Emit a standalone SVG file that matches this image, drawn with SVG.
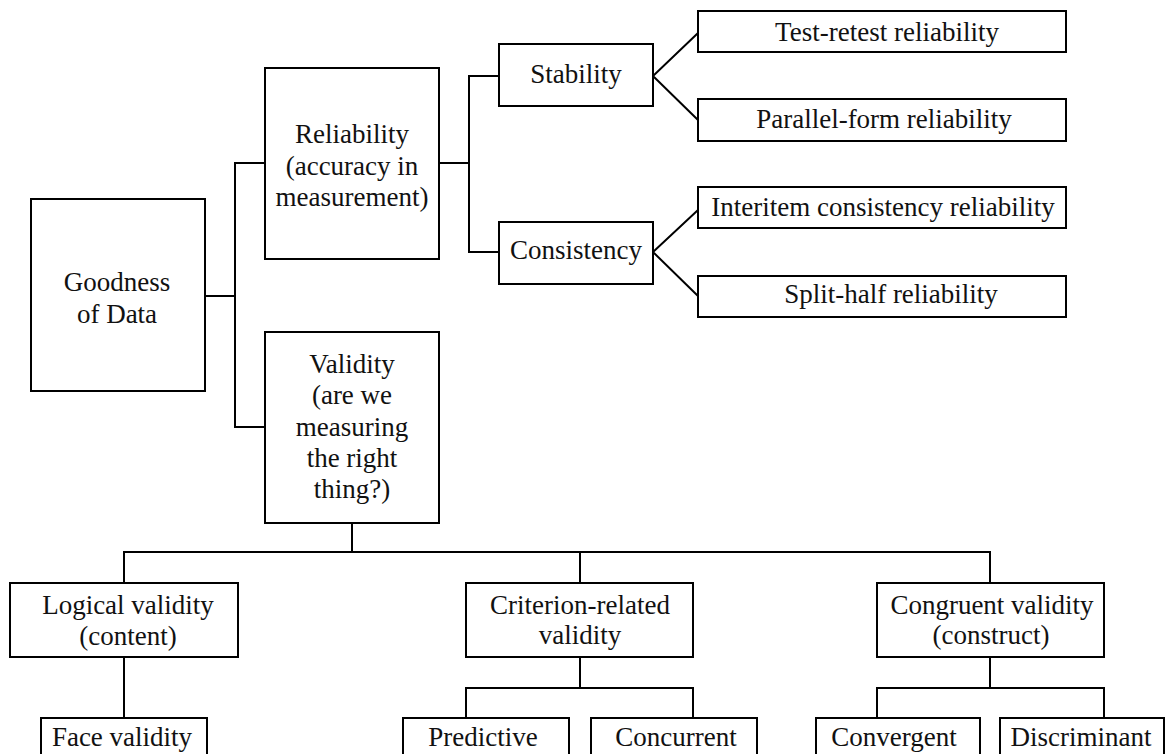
<svg xmlns="http://www.w3.org/2000/svg" width="1166" height="754" viewBox="0 0 1166 754" font-family="'Liberation Serif', 'Times New Roman', Times, serif">
<style>
  .box { fill: #ffffff; stroke: #000000; stroke-width: 2; }
  .lbl { font-family: 'Liberation Serif', 'Times New Roman', Times, serif; font-size: 27px; fill: #111111; text-anchor: middle; }
  .conn { fill: none; stroke: #000000; stroke-width: 2; stroke-linejoin: miter; }
</style>
<rect x="0" y="0" width="1166" height="754" fill="#ffffff"/>

<g id="connectors" class="conn">
  <path d="M205 296 H235 M265 163 H235 V427 H265"/>
  <path d="M439 163 H469 M499 76 H469 V252 H499"/>
  <path d="M698 33 L653 76 L698 120"/>
  <path d="M698 210 L653 252 L698 296"/>
  <path d="M352 523 V552 M124 583 V552 H990 V583 M580 552 V583"/>
  <path d="M124 657 V718"/>
  <path d="M580 657 V688 M466 718 V688 H693 V718"/>
  <path d="M990 657 V688 M877 718 V688 H1104 V718"/>
</g>

<g id="goodness">
  <rect class="box" x="31" y="199" width="174" height="192"/>
  <text class="lbl" x="117" y="291">Goodness</text>
  <text class="lbl" x="117" y="323">of Data</text>
</g>

<g id="reliability">
  <rect class="box" x="265" y="68" width="174" height="191"/>
  <text class="lbl" x="352" y="143">Reliability</text>
  <text class="lbl" x="352" y="175">(accuracy in</text>
  <text class="lbl" x="352" y="206">measurement)</text>
</g>

<g id="validity">
  <rect class="box" x="265" y="332" width="174" height="191"/>
  <text class="lbl" x="352" y="373">Validity</text>
  <text class="lbl" x="352" y="404">(are we</text>
  <text class="lbl" x="352" y="436">measuring</text>
  <text class="lbl" x="352" y="467">the right</text>
  <text class="lbl" x="352" y="498">thing?)</text>
</g>

<g id="stability">
  <rect class="box" x="499" y="44" width="154" height="62"/>
  <text class="lbl" x="576" y="83">Stability</text>
</g>

<g id="consistency">
  <rect class="box" x="499" y="222" width="154" height="62"/>
  <text class="lbl" x="576" y="259">Consistency</text>
</g>

<g id="test-retest">
  <rect class="box" x="698" y="11" width="368" height="41"/>
  <text class="lbl" x="887" y="41">Test-retest reliability</text>
</g>

<g id="parallel-form">
  <rect class="box" x="698" y="99" width="368" height="42"/>
  <text class="lbl" x="884" y="128">Parallel-form reliability</text>
</g>

<g id="interitem">
  <rect class="box" x="698" y="187" width="368" height="41"/>
  <text class="lbl" x="883" y="216">Interitem consistency reliability</text>
</g>

<g id="split-half">
  <rect class="box" x="698" y="276" width="368" height="41"/>
  <text class="lbl" x="891" y="303">Split-half reliability</text>
</g>

<g id="logical">
  <rect class="box" x="10" y="583" width="228" height="74"/>
  <text class="lbl" x="128" y="614">Logical validity</text>
  <text class="lbl" x="128" y="645">(content)</text>
</g>

<g id="criterion">
  <rect class="box" x="466" y="583" width="227" height="74"/>
  <text class="lbl" x="580" y="614">Criterion-related</text>
  <text class="lbl" x="580" y="644">validity</text>
</g>

<g id="congruent">
  <rect class="box" x="877" y="583" width="227" height="74"/>
  <text class="lbl" x="992" y="614">Congruent validity</text>
  <text class="lbl" x="991" y="644">(construct)</text>
</g>

<g id="face">
  <rect class="box" x="41" y="718" width="166" height="60"/>
  <text class="lbl" x="122" y="746">Face validity</text>
</g>

<g id="predictive">
  <rect class="box" x="403" y="718" width="166" height="60"/>
  <text class="lbl" x="483" y="746">Predictive</text>
</g>

<g id="concurrent">
  <rect class="box" x="591" y="718" width="166" height="60"/>
  <text class="lbl" x="676" y="746">Concurrent</text>
</g>

<g id="convergent">
  <rect class="box" x="816" y="718" width="164" height="60"/>
  <text class="lbl" x="894" y="746">Convergent</text>
</g>

<g id="discriminant">
  <rect class="box" x="1000" y="718" width="164" height="60"/>
  <text class="lbl" x="1081" y="746">Discriminant</text>
</g>
</svg>
